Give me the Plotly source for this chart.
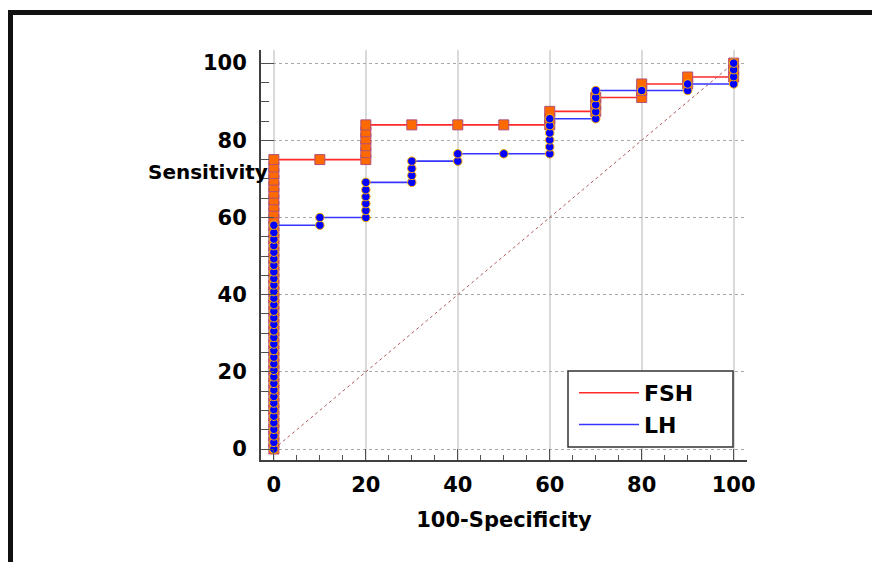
import plotly.graph_objects as go

# ---- data ----
fsh_x = [0]*45 + [10, 20, 20, 20, 20, 20, 20, 30, 40, 50, 60, 60, 60, 70, 70, 70, 80, 80, 80, 90, 90, 100, 100, 100]
fsh_y = [0.0, 1.7, 3.4, 5.1, 6.8, 8.5, 10.2, 11.9, 13.6, 15.3, 17.0, 18.7, 20.4, 22.1, 23.8,
         25.5, 27.2, 28.9, 30.6, 32.3, 34.0, 35.7, 37.4, 39.1, 40.8, 42.5, 44.2, 45.9, 47.6, 49.3,
         51.0, 52.7, 54.4, 56.1, 57.8, 59.5, 61.2, 62.9, 64.6, 66.3, 68.0, 69.7, 71.4, 73.1, 75.0,
         75.0, 75.0, 76.8, 78.6, 80.4, 82.2, 84.0, 84.0, 84.0, 84.0, 84.0, 85.7, 87.5,
         87.5, 89.3, 91.1, 91.1, 92.9, 94.6, 94.6, 96.4, 96.4, 98.2, 100.0]

lh_x = [0]*35 + [10, 10, 20, 20, 20, 20, 20, 20, 30, 30, 30, 30, 40, 40, 50,
                 60, 60, 60, 60, 60, 60, 70, 70, 70, 70, 70, 80, 90, 90, 100, 100, 100, 100]
lh_y = [0.0, 1.7, 3.4, 5.1, 6.8, 8.5, 10.2, 11.9, 13.6, 15.3, 17.0, 18.7, 20.4, 22.1, 23.8,
        25.5, 27.2, 28.9, 30.6, 32.3, 34.0, 35.7, 37.4, 39.1, 40.8, 42.5, 44.2, 45.9, 47.6, 49.3,
        51.0, 52.7, 54.4, 56.1, 58.0,
        58.0, 60.0, 60.0, 61.8, 63.6, 65.4, 67.2, 69.1, 69.1, 70.9, 72.7, 74.6, 74.6, 76.5, 76.5,
        76.5, 78.3, 80.1, 81.9, 83.8, 85.6, 85.6, 87.4, 89.2, 91.1, 92.9, 92.9, 92.9, 94.6,
        94.6, 96.5, 98.3, 100.0]

ref_x = [0, 100]
ref_y = [0, 100]

tick_vals = [0, 20, 40, 60, 80, 100]
tick_text = ["0", "20", "40", "60", "80", "100"]

FONT = "DejaVu Sans"

fig = go.Figure()

fig.add_trace(go.Scatter(x=ref_x, y=ref_y, mode="lines", showlegend=False,
                         line=dict(color="#b05a5a", width=1, dash="dot"), hoverinfo="skip"))

fig.add_trace(go.Scatter(x=fsh_x, y=fsh_y, mode="lines+markers", name="FSH", showlegend=False,
                         line=dict(color="#ff2a2a", width=1.6),
                         marker=dict(symbol="square", size=10, color="#ff6a00",
                                     line=dict(color="#b0507a", width=1))))

fig.add_trace(go.Scatter(x=lh_x, y=lh_y, mode="lines+markers", name="LH", showlegend=False,
                         line=dict(color="#3535ff", width=1.6),
                         marker=dict(symbol="circle", size=8.5, color="#0000ff",
                                     line=dict(color="#ffb400", width=1))))

# legend entries (line samples only)
fig.add_trace(go.Scatter(x=[None], y=[None], mode="lines", name="FSH",
                         line=dict(color="#ff2a2a", width=1.5)))
fig.add_trace(go.Scatter(x=[None], y=[None], mode="lines", name="LH",
                         line=dict(color="#3535ff", width=1.5)))

# page offset of the plot div inside the browser (body margin)
OFF = 8
PL, PR, PT, PB = 261, 747, 50, 460   # plot area in screen pixels
L, R, T, B = PL - OFF, 880 - (PR - OFF), PT - OFF, 562 - (PB - OFF)
PW, PH = PR - PL, PB - PT

def px(xp):
    return (xp - PL) / PW

def py(yp):
    return (PB - yp) / PH

fig.update_layout(
    width=880, height=562,
    margin=dict(l=L, r=R, t=T, b=B, autoexpand=False),
    paper_bgcolor="white", plot_bgcolor="white",
    font=dict(family=FONT, size=21, color="black", weight="bold"),
    showlegend=True,
    legend=dict(x=px(574), y=py(372), xanchor="left", yanchor="top",
                bgcolor="rgba(255,255,255,0)", borderwidth=0,
                font=dict(family=FONT, size=22, color="black", weight="bold"),
                itemwidth=60, tracegroupgap=0),
    xaxis=dict(range=[-2.8, 102.9], tickvals=tick_vals, ticktext=tick_text,
               showgrid=True, gridcolor="#dadada", gridwidth=2, griddash="solid",
               zeroline=False, showline=True, linecolor="#404040", linewidth=2,
               ticks="inside", ticklen=11, tickcolor="#505050", tickwidth=1,
               minor=dict(dtick=5, tick0=0, ticks="inside", ticklen=5, tickcolor="#505050", showgrid=False),
               ticklabelstandoff=5,
               tickfont=dict(family=FONT, size=21, color="black", weight="bold"),
               title=dict(text="100-Specificity", standoff=16,
                          font=dict(family=FONT, size=21, color="black", weight="bold"))),
    yaxis=dict(range=[-2.85, 103.4], tickvals=tick_vals, ticktext=tick_text,
               showgrid=True, gridcolor="#a8a8a8", gridwidth=1, griddash="dot",
               zeroline=False, showline=True, linecolor="#404040", linewidth=2,
               ticks="inside", ticklen=13, tickcolor="#505050", tickwidth=1,
               minor=dict(dtick=5, tick0=0, ticks="inside", ticklen=8, tickcolor="#505050", showgrid=False),
               ticklabelstandoff=8,
               tickfont=dict(family=FONT, size=21, color="black", weight="bold")),
    shapes=[
        dict(type="rect", xref="paper", yref="paper",
             x0=px(10.5), x1=px(905), y0=py(605), y1=py(12.5),
             line=dict(color="#111111", width=5), fillcolor="rgba(0,0,0,0)", layer="above"),
        dict(type="rect", xref="paper", yref="paper",
             x0=px(568), x1=px(733), y0=py(447), y1=py(371),
             line=dict(color="#333333", width=1.5), fillcolor="white", layer="above"),
    ],
    annotations=[
        dict(text="Sensitivity", xref="paper", yref="paper", x=px(270), y=py(172),
             xanchor="right", yanchor="middle", showarrow=False,
             font=dict(family=FONT, size=20, color="black", weight="bold")),
    ],
)

fig.write_html("out.html")
